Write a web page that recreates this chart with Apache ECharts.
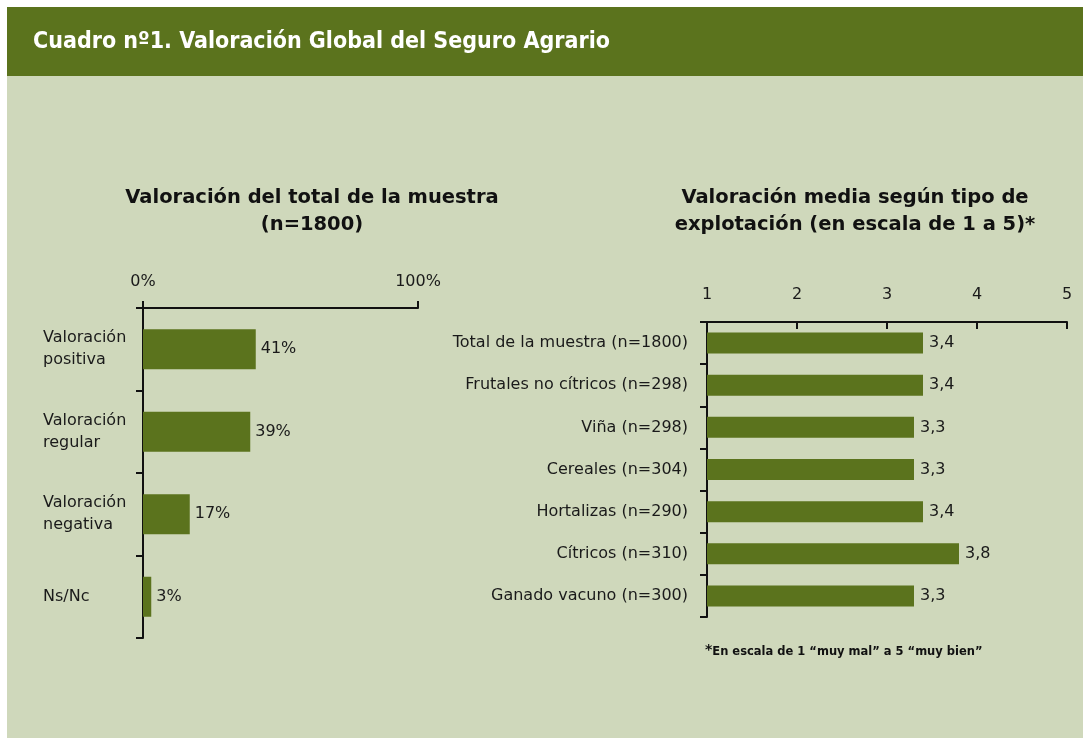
<!DOCTYPE html>
<html>
<head>
<meta charset="utf-8">
<script src="https://cdn.jsdelivr.net/npm/echarts@6/dist/echarts.min.js"></script>
<style>
    html, body {
        margin: 0;
        padding: 0;
        background: #fff;
    }
    #main {
        width: 1083px;
        height: 738px;
    }
</style>
</head>
<body>
<div id="main"></div>
<script>
    // datos del cuadro
    var leftCats = ['Valoración\npositiva', 'Valoración\nregular', 'Valoración\nnegativa', 'Ns/Nc'];
    var leftValues = [41, 39, 17, 3];

    var rightCats = ['Total de la muestra (n=1800)', 'Frutales no cítricos (n=298)', 'Viña (n=298)',
        'Cereales (n=304)', 'Hortalizas (n=290)', 'Cítricos (n=310)', 'Ganado vacuno (n=300)'];
    var rightValues = [3.4, 3.4, 3.3, 3.3, 3.4, 3.8, 3.3];

    var green = '#5b731d';
    var bg = '#cfd8bb';
    var font = '"DejaVu Sans", Verdana, sans-serif';
    var txt = '#1a1a1a';

    var chart = echarts.init(document.getElementById('main'));

    chart.setOption({
        animation: false,
        textStyle: { fontFamily: font },
        graphic: [
            { type: 'rect', shape: { x: 7, y: 7, width: 1076, height: 731 }, style: { fill: bg }, z: -10 },
            { type: 'rect', shape: { x: 7, y: 7, width: 1076, height: 69 }, style: { fill: green }, z: -9 },
            {
                type: 'text', left: 33, top: 31,
                style: {
                    text: 'Cuadro nº1. Valoración Global del Seguro Agrario',
                    fill: '#fff', font: 'bold 23px "DejaVu Sans Condensed", "Liberation Sans", sans-serif'
                }
            },
            {
                type: 'text', left: 705, top: 643,
                style: {
                    text: '{a|*}{b|En escala de 1 “muy mal” a 5 “muy bien”}',
                    rich: {
                        a: { fontSize: 14, fontWeight: 'bold', fill: '#111', verticalAlign: 'top', fontFamily: font },
                        b: { fontSize: 11.5, fontWeight: 'bold', fill: '#111', fontFamily: font, padding: [3, 0, 0, 0] }
                    }
                }
            }
        ],
        title: [
            {
                text: 'Valoración del total de la muestra\n(n=1800)',
                left: 307, top: 179, textAlign: 'center',
                textStyle: { fontSize: 19.5, fontWeight: 'bold', color: '#111', lineHeight: 27, fontFamily: font }
            },
            {
                text: 'Valoración media según tipo de\nexplotación (en escala de 1 a 5)*',
                left: 850, top: 179, textAlign: 'center',
                textStyle: { fontSize: 19.5, fontWeight: 'bold', color: '#111', lineHeight: 27, fontFamily: font }
            }
        ],
        grid: [
            { left: 143, top: 308, width: 275, height: 330 },
            { left: 707, top: 322, width: 360, height: 295 }
        ],
        xAxis: [
            {
                gridIndex: 0, type: 'value', position: 'top', min: 0, max: 100, interval: 100,
                axisLine: { show: true, lineStyle: { color: '#111', width: 2 } },
                axisTick: { show: true, length: 7, lineStyle: { color: '#111', width: 2 } },
                splitLine: { show: false },
                axisLabel: { formatter: '{value}%', fontSize: 16, color: txt, margin: 18 }
            },
            {
                gridIndex: 1, type: 'value', position: 'top', min: 1, max: 5, interval: 1,
                axisLine: { show: true, lineStyle: { color: '#111', width: 2 } },
                axisTick: { show: true, inside: true, length: 7, lineStyle: { color: '#111', width: 2 } },
                splitLine: { show: false },
                axisLabel: { fontSize: 16, color: txt, margin: 19 }
            }
        ],
        yAxis: [
            {
                gridIndex: 0, type: 'category', inverse: true, data: leftCats,
                axisLine: { show: true, lineStyle: { color: '#111', width: 2 } },
                axisTick: { show: true, length: 7, lineStyle: { color: '#111', width: 2 } },
                axisLabel: { align: 'left', margin: 100, fontSize: 16, color: txt, lineHeight: 22 }
            },
            {
                gridIndex: 1, type: 'category', inverse: true, data: rightCats,
                axisLine: { show: true, lineStyle: { color: '#111', width: 2 } },
                axisTick: { show: true, length: 7, lineStyle: { color: '#111', width: 2 } },
                axisLabel: { margin: 19, fontSize: 16, color: txt }
            }
        ],
        series: [
            {
                type: 'bar', xAxisIndex: 0, yAxisIndex: 0, data: leftValues,
                barWidth: 40, itemStyle: { color: green },
                label: { show: true, position: 'right', distance: 5, formatter: '{c}%', fontSize: 16, color: txt }
            },
            {
                type: 'bar', xAxisIndex: 1, yAxisIndex: 1, data: rightValues,
                barWidth: 21, itemStyle: { color: green },
                label: {
                    show: true, position: 'right', distance: 6, fontSize: 16, color: txt,
                    formatter: function (p) { return p.value.toFixed(1).replace('.', ','); }
                }
            }
        ]
    });
</script>
</body>
</html>
